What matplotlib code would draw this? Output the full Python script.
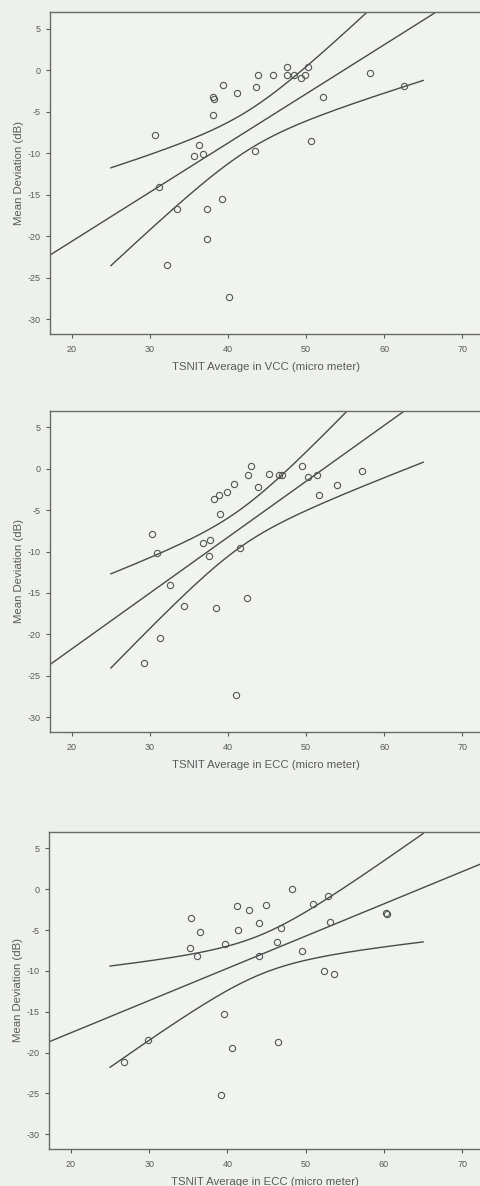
import matplotlib.pyplot as plt
import numpy as np

plt.rcParams['font.family'] = ['Liberation Sans', 'DejaVu Sans']

# panel 1: VCC
vcc_x = [30.7, 31.2, 32.2, 33.4, 35.7, 36.3, 36.8, 37.3, 37.3, 38.1,
         38.2, 38.1, 39.3, 39.2, 40.1, 41.2, 43.4, 43.6, 43.9, 45.7,
         47.6, 47.6, 48.4, 49.4, 49.9, 50.2, 50.6, 52.1, 58.2, 62.6]
vcc_md = [-7.8, -14.1, -23.5, -16.7, -10.4, -9.0, -10.1, -16.8, -20.4, -3.2,
          -3.5, -5.4, -1.8, -15.5, -27.3, -2.8, -9.7, -2.1, -0.6, -0.6,
          0.4, -0.6, -0.6, -1.0, -0.6, 0.4, -8.6, -3.2, -0.3, -1.9]

# panel 2: ECC
ecc_x = [30.2, 30.9, 29.3, 31.3, 32.6, 34.3, 36.8, 37.7, 37.6, 38.2,
         38.9, 39.9, 39.0, 38.5, 40.8, 41.5, 41.0, 42.5, 43.0, 42.4,
         43.8, 45.2, 46.5, 46.9, 49.5, 50.3, 51.4, 51.7, 54.0, 57.1]
ecc_md = [-7.9, -10.2, -23.5, -20.4, -14.0, -16.6, -9.0, -8.6, -10.5, -3.6,
          -3.2, -2.8, -5.5, -16.8, -1.8, -9.6, -27.3, -0.8, 0.4, -15.6,
          -2.2, -0.6, -0.8, -0.8, 0.4, -1.0, -0.8, -3.2, -2.0, -0.3]

# panel 3: ECC (second group), two points overlap near 60
ecc2_x = [26.8, 29.8, 35.3, 35.2, 36.1, 36.5, 39.2, 39.6, 39.7, 40.6,
          41.2, 41.3, 42.7, 44.0, 44.0, 44.9, 46.3, 46.5, 46.8, 48.3,
          49.5, 50.9, 52.3, 52.8, 53.1, 53.6, 60.3, 60.4]
ecc2_md = [-21.2, -18.4, -3.5, -7.2, -8.2, -5.3, -25.2, -15.3, -6.7, -19.5,
           -2.0, -5.0, -2.5, -4.1, -8.2, -1.9, -6.5, -18.7, -4.8, 0.0,
           -7.6, -1.8, -10.0, -0.8, -4.0, -10.4, -2.9, -3.0]

panels = [
    (vcc_x, vcc_md, 'TSNIT Average in VCC (micro meter)', [0.104, 0.7184, 0.896, 0.2715]),
    (ecc_x, ecc_md, 'TSNIT Average in ECC (micro meter)', [0.104, 0.3828, 0.896, 0.2707]),
    (ecc2_x, ecc2_md, 'TSNIT Average in ECC (micro meter)', [0.102, 0.0312, 0.898, 0.2673]),
]

# t(0.975, df) for the CI of the mean
t_table = {25: 2.060, 26: 2.056, 28: 2.048}

bg = '#eef0ec'
ink = '#4a4a4a'
txt = '#5a5a5a'

fig = plt.figure(figsize=(4.81, 11.86), dpi=100, facecolor=bg)

for x, y, xlabel, pos in panels:
    x = np.array(x)
    y = np.array(y)
    ax = fig.add_axes(pos)
    ax.set_facecolor('#f1f3ef')

    # least squares fit + 95% CI of the mean
    n = len(x)
    b, a = np.polyfit(x, y, 1)
    resid = y - (a + b * x)
    s = np.sqrt(np.sum(resid ** 2) / (n - 2))
    sxx = np.sum((x - x.mean()) ** 2)
    t = t_table[n - 2]

    xl = np.linspace(10, 80, 200)
    ax.plot(xl, a + b * xl, color=ink, lw=1.0)
    xc = np.linspace(25, 65, 200)
    half = t * s * np.sqrt(1.0 / n + (xc - x.mean()) ** 2 / sxx)
    ax.plot(xc, a + b * xc + half, color=ink, lw=1.0)
    ax.plot(xc, a + b * xc - half, color=ink, lw=1.0)

    ax.plot(x, y, 'o', mfc='none', mec='#555555', ms=4.5, mew=0.8)

    ax.set_xlim(17.2, 72.4)
    ax.set_ylim(-31.8, 7.0)
    ax.set_xticks([20, 30, 40, 50, 60, 70])
    ax.set_yticks([5, 0, -5, -10, -15, -20, -25, -30])
    ax.set_yticklabels(['5', '0', '-5', '-10', '-15', '-20', '-25', '-30'])
    ax.tick_params(colors=txt, labelsize=6.5, length=3, width=0.8)
    ax.tick_params(axis='x', pad=5)
    for side in ['left', 'bottom', 'top']:
        ax.spines[side].set_color('#6a6a6a')
        ax.spines[side].set_linewidth(1.0)
    ax.spines['right'].set_visible(False)
    ax.set_xlabel(xlabel, color=txt, fontsize=8.2, labelpad=6)
    ax.set_ylabel('Mean Deviation (dB)', color=txt, fontsize=8.2, labelpad=3)

plt.savefig('out.png', dpi=100, facecolor=bg)
